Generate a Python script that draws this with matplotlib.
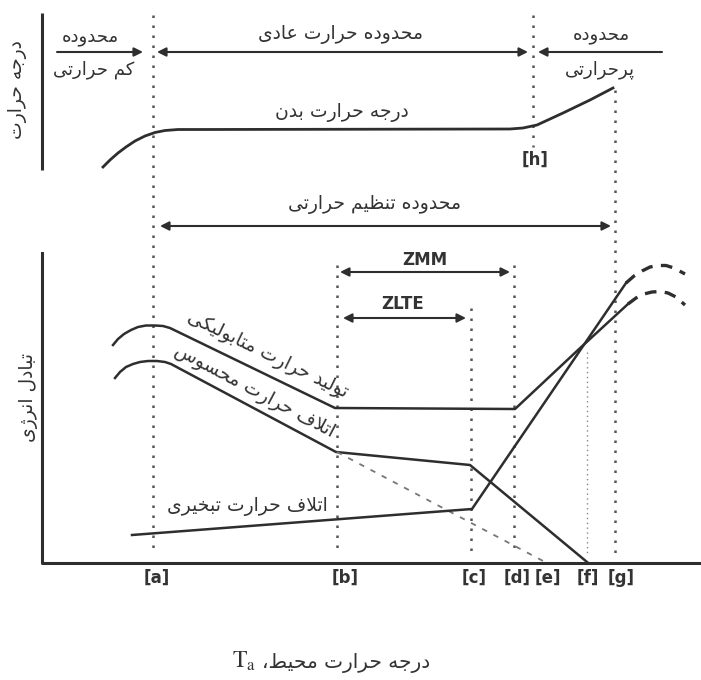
import matplotlib
matplotlib.use("Agg")
import matplotlib.pyplot as plt

# --- Persian text shaping (matplotlib has no complex text layout) ---
FORMS = {
    "ا": (0xFE8D, 0xFE8E), "آ": (0xFE81, 0xFE82),
    "ب": (0xFE8F, 0xFE90, 0xFE91, 0xFE92), "پ": (0xFB56, 0xFB57, 0xFB58, 0xFB59),
    "ت": (0xFE95, 0xFE96, 0xFE97, 0xFE98), "ج": (0xFE9D, 0xFE9E, 0xFE9F, 0xFEA0),
    "ح": (0xFEA1, 0xFEA2, 0xFEA3, 0xFEA4), "خ": (0xFEA5, 0xFEA6, 0xFEA7, 0xFEA8),
    "د": (0xFEA9, 0xFEAA), "ر": (0xFEAD, 0xFEAE), "ز": (0xFEAF, 0xFEB0),
    "ژ": (0xFB8A, 0xFB8B), "س": (0xFEB1, 0xFEB2, 0xFEB3, 0xFEB4),
    "ط": (0xFEC1, 0xFEC2, 0xFEC3, 0xFEC4), "ظ": (0xFEC5, 0xFEC6, 0xFEC7, 0xFEC8),
    "ع": (0xFEC9, 0xFECA, 0xFECB, 0xFECC), "ف": (0xFED1, 0xFED2, 0xFED3, 0xFED4),
    "ک": (0xFB8E, 0xFB8F, 0xFB90, 0xFB91), "ل": (0xFEDD, 0xFEDE, 0xFEDF, 0xFEE0),
    "م": (0xFEE1, 0xFEE2, 0xFEE3, 0xFEE4), "ن": (0xFEE5, 0xFEE6, 0xFEE7, 0xFEE8),
    "ه": (0xFEE9, 0xFEEA, 0xFEEB, 0xFEEC), "و": (0xFEED, 0xFEEE),
    "ی": (0xFBFC, 0xFBFD, 0xFBFE, 0xFBFF),
}


def fa(text):
    chars = list(text)
    res = []
    i = 0
    while i < len(chars):
        c = chars[i]
        if c not in FORMS:
            res.append(c)
            i += 1
            continue
        prev = chars[i - 1] if i > 0 else None
        jp = prev in FORMS and len(FORMS[prev]) == 4
        if c == "ل" and i + 1 < len(chars) and chars[i + 1] == "ا":
            res.append(chr(0xFEFC if jp else 0xFEFB))
            i += 2
            continue
        nxt = chars[i + 1] if i + 1 < len(chars) else None
        jn = len(FORMS[c]) == 4 and nxt in FORMS
        f = FORMS[c]
        cp = f[3] if (jp and jn) else f[1] if jp else f[2] if jn else f[0]
        res.append(chr(cp))
        i += 1
    return "".join(reversed(res))


# --- data (x: ambient temperature, y: drawing units, downward) ---
marker_names = ["a", "b", "c", "d", "e", "f", "g"]
marker_label_x = [157, 345, 474, 517, 548, 588, 621]

guide_x = [153, 337, 471, 514, 587, 615]
guide_top = [15, 265, 308, 265, 352, 90]
guide_faint = [False, False, False, False, True, False]
h_x, h_top, h_bottom = 533, 15, 147

body_x = [103, 110, 118, 126, 135, 145, 155, 165, 178, 200, 510, 523, 537, 563, 590, 613]
body_y = [167, 160, 153, 147, 141, 136, 132.5, 130.5, 129.5, 129.5, 129, 128, 125, 113, 100, 88]

metab_x = [113, 118, 124, 131, 138, 146, 155, 163, 170, 335, 515, 578, 628]
metab_y = [345, 339, 334, 330, 327, 325.5, 325.5, 326, 328, 408, 409, 350, 304]
metab_dash_x = [628, 636, 644, 652, 660, 668, 676, 685]
metab_dash_y = [304, 298, 294, 292, 291.5, 293, 297, 305]

sens_x = [115, 120, 126, 133, 140, 148, 157, 165, 171, 336, 470, 587]
sens_y = [378, 372, 367, 364, 362, 361, 361, 362, 364, 452, 465, 562]
sens_extrap_x = [337, 545]
sens_extrap_y = [452, 562]

evap_x = [132, 472, 626]
evap_y = [535, 509, 283]
evap_dash_x = [626, 634, 642, 650, 658, 666, 674, 685]
evap_dash_y = [283, 276, 271, 267, 265.5, 265.5, 268, 274]

top_arrow_y = 52
cold_span = [57, 143]
normal_span = [157, 528]
hot_span = [538, 662]
regulation_span = [160, 611]
regulation_y = 226
zmm_span = [340, 510]
zmm_y = 272
zlte_span = [343, 466]
zlte_y = 318

LINE = "#2e2e2e"
DOT = "#555555"
TXT = "#333333"

fig = plt.figure(figsize=(7.01, 6.80), dpi=100)
ax = fig.add_axes([0, 0, 1, 1])
ax.set_xlim(0, 701)
ax.set_ylim(680, 0)
ax.axis("off")

# axes frames
ax.plot([42, 42], [13, 170], color=LINE, lw=2.2, solid_capstyle="butt")
ax.plot([42, 42, 701], [253, 563, 563], color=LINE, lw=2.2)

# vertical guides
for gx, gt, faint in zip(guide_x, guide_top, guide_faint):
    ax.plot([gx, gx], [gt, 555], color="#888888" if faint else DOT,
            lw=1.0 if faint else 1.8, linestyle=(0, (1, 3) if not faint else (1, 2.5)))
ax.plot([h_x, h_x], [h_top, h_bottom], color=DOT, lw=1.8, linestyle=(0, (1, 3)))

# curves
ax.plot(body_x, body_y, color=LINE, lw=2.0)
ax.plot(metab_x, metab_y, color=LINE, lw=1.8)
ax.plot(metab_dash_x, metab_dash_y, color=LINE, lw=2.4, linestyle=(0, (3.5, 2.5)))
ax.plot(sens_x, sens_y, color=LINE, lw=1.8)
ax.plot(sens_extrap_x, sens_extrap_y, color="#777777", lw=1.3, linestyle=(0, (3, 4)))
ax.plot(evap_x, evap_y, color=LINE, lw=1.8)
ax.plot(evap_dash_x, evap_dash_y, color=LINE, lw=2.4, linestyle=(0, (3.5, 2.5)))


def arrow(x0, x1, y, style):
    ax.annotate("", xy=(x1, y), xytext=(x0, y),
                arrowprops=dict(arrowstyle=style, color=LINE, lw=1.5,
                                shrinkA=0, shrinkB=0, mutation_scale=13))


arrow(cold_span[0], cold_span[1], top_arrow_y, "-|>")
arrow(normal_span[0], normal_span[1], top_arrow_y, "<|-|>")
arrow(hot_span[1], hot_span[0], top_arrow_y, "-|>")
arrow(regulation_span[0], regulation_span[1], regulation_y, "<|-|>")
arrow(zmm_span[0], zmm_span[1], zmm_y, "<|-|>")
arrow(zlte_span[0], zlte_span[1], zlte_y, "<|-|>")

# texts
fs = 13.5
kw = dict(color=TXT, family="DejaVu Sans", ha="center", va="center")
ax.text(18, 90, fa("درجه حرارت"), rotation=90, fontsize=fs, **kw)
ax.text(29, 398, fa("تبادل انرژی"), rotation=90, fontsize=fs, **kw)
ax.text(90, 37, fa("محدوده"), fontsize=13, **kw)
ax.text(94, 70, fa("کم حرارتی"), fontsize=13, **kw)
ax.text(341, 35, fa("محدوده حرارت عادی"), fontsize=fs, **kw)
ax.text(601, 35, fa("محدوده"), fontsize=13, **kw)
ax.text(600, 70, fa("پرحرارتی"), fontsize=13, **kw)
ax.text(342, 113, fa("درجه حرارت بدن"), fontsize=fs, **kw)
ax.text(375, 205, fa("محدوده تنظیم حرارتی"), fontsize=fs, **kw)
ax.text(268, 355, fa("تولید حرارت متابولیکی"), rotation=-26, rotation_mode="anchor", fontsize=fs, **kw)
ax.text(254, 392, fa("اتلاف حرارت محسوس"), rotation=-28, rotation_mode="anchor", fontsize=fs, **kw)
ax.text(247, 507, fa("اتلاف حرارت تبخیری"), fontsize=fs, **kw)

ax.text(425, 260, "ZMM", fontsize=12, fontweight="bold", **kw)
ax.text(403, 304, "ZLTE", fontsize=12, fontweight="bold", **kw)
ax.text(535, 160, "[h]", fontsize=12, fontweight="bold", **kw)
for name, lx in zip(marker_names, marker_label_x):
    ax.text(lx, 578, f"[{name}]", fontsize=12, fontweight="bold", **kw)

ax.text(262, 663, fa("درجه حرارت محیط،"), fontsize=14.5, color=TXT,
        family="DejaVu Sans", ha="left", va="center")
ax.text(256, 661, r"$\mathrm{T_a}$", fontsize=17, color=TXT, ha="right", va="center",
        math_fontfamily="stix")

fig.savefig("out.png", dpi=100)
